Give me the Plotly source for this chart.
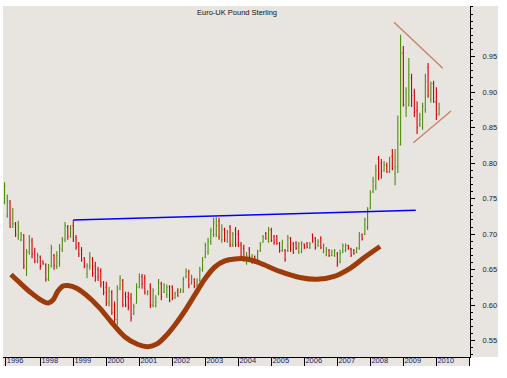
import plotly.graph_objects as go

# ---------------- data (monthly OHLC, Dec 1996 .. Feb 2010) ----------------
open_ = [
    .745, .726, .745, .710, .714, .697, .692, .699, .650, .675, .690, .675, .662, .668, .662, .657, .637, .655, .670, .655,
    .660, .678, .692, .710, .697, .712, .695, .686, .678, .666, .645, .655, .665, .655, .650, .648, .632, .625, .604, .618,
    .600, .580, .624, .635, .615, .612, .610, .588, .603, .626, .640, .638, .615, .626, .600, .599, .616, .630, .618, .615,
    .626, .625, .610, .620, .618, .620, .640, .647, .630, .636, .628, .635, .650, .668, .676, .690, .700, .700, .718, .692,
    .706, .690, .710, .685, .706, .700, .685, .680, .660, .679, .660, .668, .665, .677, .689, .701, .690, .706, .697, .697,
    .687, .677, .677, .677, .694, .686, .688, .675, .676, .686, .687, .681, .699, .694, .684, .694, .675, .671, .677, .670,
    .670, .672, .661, .675, .677, .684, .679, .677, .674, .680, .700, .700, .710, .737, .760, .768, .806, .800, .790, .797,
    .788, .810, .785, .795, .826, .955, .878, .882, .920, .900, .874, .855, .850, .875, .935, .890, .912, .886, .870,
]
high = [
    .773, .756, .748, .737, .717, .719, .703, .700, .679, .699, .695, .681, .674, .670, .663, .659, .658, .685, .672, .676,
    .686, .696, .717, .713, .713, .720, .699, .689, .682, .668, .659, .675, .668, .661, .654, .652, .634, .633, .626, .621,
    .605, .628, .642, .637, .619, .619, .617, .602, .631, .645, .644, .643, .621, .631, .624, .614, .637, .633, .631, .629,
    .628, .628, .619, .624, .624, .640, .652, .650, .643, .638, .638, .654, .668, .688, .695, .709, .723, .724, .723, .714,
    .709, .706, .713, .703, .710, .706, .689, .685, .675, .682, .672, .670, .678, .689, .699, .703, .710, .709, .699, .699,
    .689, .692, .679, .699, .696, .689, .690, .689, .690, .687, .689, .689, .701, .696, .693, .697, .687, .682, .679, .678,
    .679, .675, .678, .687, .687, .685, .681, .679, .682, .703, .701, .723, .738, .762, .781, .798, .810, .806, .803, .801,
    .809, .820, .820, .867, .981, .965, .907, .948, .926, .905, .887, .871, .885, .926, .941, .915, .916, .907, .885,
]
low = [
    .742, .723, .709, .709, .696, .692, .690, .651, .641, .671, .666, .659, .659, .650, .657, .633, .634, .653, .650, .651,
    .654, .675, .689, .692, .695, .689, .678, .668, .661, .652, .638, .650, .640, .633, .634, .625, .614, .599, .598, .586,
    .575, .572, .621, .597, .597, .593, .577, .586, .602, .624, .623, .615, .614, .596, .597, .597, .614, .607, .617, .610,
    .604, .607, .609, .612, .617, .617, .638, .624, .629, .624, .626, .633, .647, .666, .671, .685, .696, .696, .692, .688,
    .689, .688, .682, .682, .682, .682, .666, .661, .657, .665, .658, .659, .663, .675, .688, .692, .688, .689, .685, .685,
    .674, .675, .661, .675, .675, .672, .678, .672, .673, .679, .680, .679, .688, .678, .682, .679, .673, .669, .668, .669,
    .668, .654, .659, .673, .675, .678, .668, .671, .673, .678, .691, .699, .706, .735, .758, .762, .776, .778, .788, .786,
    .786, .790, .769, .786, .825, .880, .865, .880, .879, .865, .841, .851, .847, .871, .892, .885, .885, .861, .867,
]
close = [
    .768, .747, .710, .715, .700, .710, .700, .655, .675, .692, .672, .662, .670, .655, .658, .636, .652, .680, .656, .670,
    .680, .692, .712, .697, .708, .692, .682, .672, .664, .655, .655, .668, .645, .640, .640, .630, .618, .602, .620, .590,
    .580, .622, .638, .600, .600, .597, .582, .598, .625, .640, .630, .618, .619, .600, .620, .604, .632, .612, .628, .625,
    .607, .610, .617, .613, .622, .636, .648, .628, .640, .627, .634, .650, .663, .684, .690, .705, .716, .712, .696, .708,
    .692, .703, .685, .700, .686, .685, .669, .665, .670, .668, .669, .661, .675, .686, .696, .694, .706, .691, .688, .687,
    .677, .688, .664, .695, .678, .675, .680, .686, .688, .681, .682, .686, .690, .681, .690, .681, .684, .678, .670, .676,
    .677, .658, .673, .684, .684, .680, .670, .673, .680, .698, .693, .720, .735, .758, .775, .790, .785, .788, .797, .788,
    .796, .792, .795, .828, .955, .882, .900, .925, .895, .872, .850, .862, .880, .915, .895, .912, .886, .868, .877,
]
first_month = 1996 + 11 / 12          # December 1996
months = [first_month + i / 12 for i in range(len(close))]

# resistance line (blue)
resist_x = [1999.0, 2009.376]
resist_y = [0.720, 0.7337]

# rounded "saucer" curve (brown)
curve_x = [1997.112, 1997.385, 1997.688, 1997.991, 1998.242, 1998.385, 1998.536, 1998.688, 1998.839,
           1999.103, 1999.506, 1999.809, 2000.164, 2000.567, 2000.961, 2001.264, 2001.536, 2001.830,
           2002.079, 2002.379, 2002.682, 2002.985, 2003.288, 2003.591, 2003.894, 2004.258, 2004.652,
           2005.258, 2005.864, 2006.376, 2006.879, 2007.385, 2007.839, 2008.294]
curve_y = [.6432, .6313, .6186, .6080, .6031, .6073, .6200, .6270, .6277,
           .6238, .6097, .5954, .5756, .5552, .5446, .5415, .5454, .5580,
           .5721, .5918, .6144, .6369, .6538, .6623, .6651, .6651, .6594,
           .6475, .6390, .6365, .6401, .6520, .6679, .6827]

# triangle (pennant) lines
tri_upper_x = [2008.718, 2010.194]
tri_upper_y = [0.9985, 0.9337]
tri_lower_x = [2009.303, 2010.445]
tri_lower_y = [0.8289, 0.8735]

year_ticks = [1996.95, 1998, 1999, 2000, 2001, 2002, 2003, 2004, 2005, 2006, 2007, 2008, 2009, 2010, 2011]
year_labels = ["1996", "1998", "1999", "2000", "2001", "2002", "2003", "2004", "2005", "2006", "2007",
               "2008", "2009", "2010", ""]
price_ticks = [0.55, 0.60, 0.65, 0.70, 0.75, 0.80, 0.85, 0.90, 0.95]
price_labels = ["0.55", "0.60", "0.65", "0.70", "0.75", "0.80", "0.85", "0.90", "0.95"]

# ---------------- figure ----------------
BG = "#E8E5E1"
GREEN = "#4E8F0E"
RED = "#D00000"
FONT = "Liberation Sans, Arial, sans-serif"

fig = go.Figure()

fig.add_trace(go.Scatter(x=curve_x, y=curve_y, mode="lines",
                         line=dict(color="#9E3B0B", width=5, shape="spline", smoothing=1.0),
                         hoverinfo="skip", showlegend=False))

fig.add_trace(go.Ohlc(x=months, open=open_, high=high, low=low, close=close,
                      increasing=dict(line=dict(color=GREEN, width=1.1)),
                      decreasing=dict(line=dict(color=RED, width=1.1)),
                      tickwidth=0.3, showlegend=False))

fig.add_trace(go.Scatter(x=resist_x, y=resist_y, mode="lines",
                         line=dict(color="#0000FF", width=1.6), hoverinfo="skip", showlegend=False))
fig.add_trace(go.Scatter(x=tri_upper_x, y=tri_upper_y, mode="lines",
                         line=dict(color="#C98462", width=1.4), hoverinfo="skip", showlegend=False))
fig.add_trace(go.Scatter(x=tri_lower_x, y=tri_lower_y, mode="lines",
                         line=dict(color="#C98462", width=1.4), hoverinfo="skip", showlegend=False))

L, R, T, B = 3, 37, 6, 21
W, H = 507, 378
pw, ph = W - L - R, H - T - B

fig.update_layout(
    width=W, height=H,
    margin=dict(l=L, r=R, t=T, b=B, pad=0, autoexpand=False),
    paper_bgcolor="white", plot_bgcolor=BG,
    font=dict(family=FONT, size=8, color="#222222"),
    showlegend=False,
    xaxis=dict(range=[1996.87, 2011.02], rangeslider=dict(visible=False),
               tickmode="array", tickvals=year_ticks, ticktext=year_labels,
               ticks="outside", ticklen=8, tickcolor="black", tickwidth=1,
               ticklabelposition="outside right", ticklabelstandoff=-4, ticklabelshift=0,
               tickfont=dict(size=7.5, color="#1B1B5E", family=FONT),
               showline=True, linecolor="black", linewidth=1.2,
               showgrid=False, zeroline=False, fixedrange=True),
    yaxis=dict(range=[0.527, 1.0214], side="right",
               tickmode="array", tickvals=price_ticks, ticktext=price_labels,
               ticks="outside", ticklen=4, tickcolor="black", tickwidth=1,
               ticklabelstandoff=6,
               minor=dict(tickmode="linear", tick0=0.5, dtick=0.01, ticks="outside",
                          ticklen=2, tickcolor="black", tickwidth=1, showgrid=False),
               tickfont=dict(size=7.5, color="#222222", family=FONT),
               showline=True, linecolor="black", linewidth=1.2,
               showgrid=False, zeroline=False, fixedrange=True),
    shapes=[
        # grey band to the right of the price axis
        dict(type="rect", xref="paper", yref="paper", x0=1, x1=(498 - L) / pw, y0=0, y1=1,
             fillcolor=BG, line=dict(width=0), layer="below"),
        # grey band behind the year labels
        dict(type="rect", xref="paper", yref="paper", x0=0, x1=1, y0=-9 / ph, y1=0,
             fillcolor=BG, line=dict(width=0), layer="below"),
    ],
    annotations=[
        dict(text="Euro-UK Pound Sterling", xref="paper", yref="paper", x=0.5, y=1 - 6.5 / ph,
             xanchor="center", yanchor="middle", showarrow=False,
             font=dict(size=7.5, color="#111111", family=FONT)),
    ],
)

fig.write_html("out.html", config={"displayModeBar": False},
               post_script="document.body.style.margin='0';document.body.style.padding='0';")
